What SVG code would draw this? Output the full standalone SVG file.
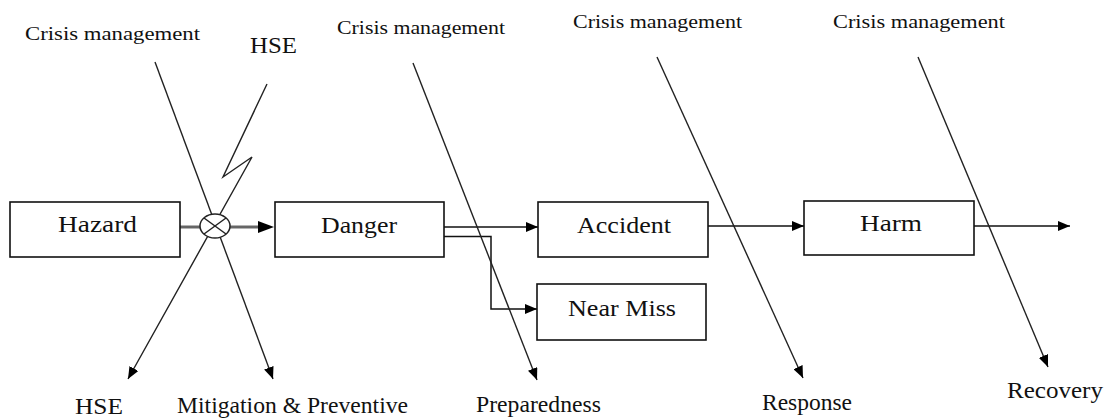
<svg xmlns="http://www.w3.org/2000/svg" width="1112" height="418" viewBox="0 0 1112 418">
<style>
.box{fill:#fff;stroke:#111;stroke-width:1.6}
.lbl{font-family:"Liberation Serif","Times New Roman",serif;fill:#111}
.big{font-size:24px}
.sm{font-size:19px}
.mid{font-size:23px}
.ln{fill:none;stroke:#111;stroke-width:1.5}
.gl{fill:none;stroke:#666;stroke-width:3}
.dg{fill:none;stroke:#222;stroke-width:1.4}
</style>
<defs>
<marker id="ah" viewBox="0 0 12 10" refX="12" refY="5" markerWidth="12" markerHeight="10" markerUnits="userSpaceOnUse" orient="auto">
<path d="M0,0 L12,5 L0,10 Z" fill="#000"/>
</marker>
</defs>
<rect width="1112" height="418" fill="#fff"/>
<g id="connectors">
<line class="gl" x1="180" y1="227" x2="200" y2="227"/>
<line class="gl" x1="230" y1="227" x2="262" y2="227"/>
<path d="M258,221 L274,227 L258,233 Z" fill="#000"/>
<line class="ln" x1="444" y1="227" x2="538" y2="227" marker-end="url(#ah)"/>
<polyline class="ln" points="444,236.5 491,236.5 491,309 537,309" marker-end="url(#ah)"/>
<line class="ln" x1="708" y1="226" x2="804" y2="226" marker-end="url(#ah)"/>
<line class="ln" x1="974" y1="226" x2="1070" y2="226" marker-end="url(#ah)"/>
<line class="dg" x1="155" y1="62" x2="273" y2="379" marker-end="url(#ah)"/>
<polyline class="dg" points="267,84 223,177 252,157 128,379" marker-end="url(#ah)"/>
<line class="dg" x1="413" y1="63" x2="537" y2="380" marker-end="url(#ah)"/>
<line class="dg" x1="657" y1="57" x2="803" y2="378" marker-end="url(#ah)"/>
<line class="dg" x1="918" y1="57" x2="1048" y2="367" marker-end="url(#ah)"/>
</g>
<g id="junction">
<ellipse cx="215" cy="226" rx="15" ry="12" fill="#fff" stroke="#222" stroke-width="1.5"/>
<line class="dg" x1="204" y1="218" x2="226" y2="234"/>
<line class="dg" x1="226" y1="218" x2="204" y2="234"/>
</g>
<g id="hazard">
<rect class="box" x="10" y="202" width="170" height="55"/>
<text class="lbl big" x="58" y="232" textLength="79" lengthAdjust="spacingAndGlyphs">Hazard</text>
</g>
<g id="danger">
<rect class="box" x="275" y="202" width="169" height="55"/>
<text class="lbl big" x="321" y="233" textLength="76" lengthAdjust="spacingAndGlyphs">Danger</text>
</g>
<g id="accident">
<rect class="box" x="538" y="202" width="170" height="55"/>
<text class="lbl big" x="577" y="233" textLength="94" lengthAdjust="spacingAndGlyphs">Accident</text>
</g>
<g id="nearmiss">
<rect class="box" x="537" y="284" width="169" height="56"/>
<text class="lbl big" x="568" y="316" textLength="108" lengthAdjust="spacingAndGlyphs">Near Miss</text>
</g>
<g id="harm">
<rect class="box" x="804" y="201" width="170" height="54"/>
<text class="lbl big" x="860" y="231" textLength="62" lengthAdjust="spacingAndGlyphs">Harm</text>
</g>
<g id="labels">
<text class="lbl sm" x="25" y="40" textLength="175" lengthAdjust="spacingAndGlyphs">Crisis management</text>
<text class="lbl big" x="250" y="53" textLength="47" lengthAdjust="spacingAndGlyphs">HSE</text>
<text class="lbl sm" x="337" y="34" textLength="168" lengthAdjust="spacingAndGlyphs">Crisis management</text>
<text class="lbl sm" x="573" y="28" textLength="169" lengthAdjust="spacingAndGlyphs">Crisis management</text>
<text class="lbl sm" x="833" y="28" textLength="172" lengthAdjust="spacingAndGlyphs">Crisis management</text>
<text class="lbl mid" x="75" y="414" textLength="48" lengthAdjust="spacingAndGlyphs">HSE</text>
<text class="lbl mid" x="177" y="413" textLength="231" lengthAdjust="spacingAndGlyphs">Mitigation &amp; Preventive</text>
<text class="lbl mid" x="476" y="412" textLength="125" lengthAdjust="spacingAndGlyphs">Preparedness</text>
<text class="lbl mid" x="762" y="410" textLength="90" lengthAdjust="spacingAndGlyphs">Response</text>
<text class="lbl mid" x="1007" y="398" textLength="96" lengthAdjust="spacingAndGlyphs">Recovery</text>
</g>
</svg>
